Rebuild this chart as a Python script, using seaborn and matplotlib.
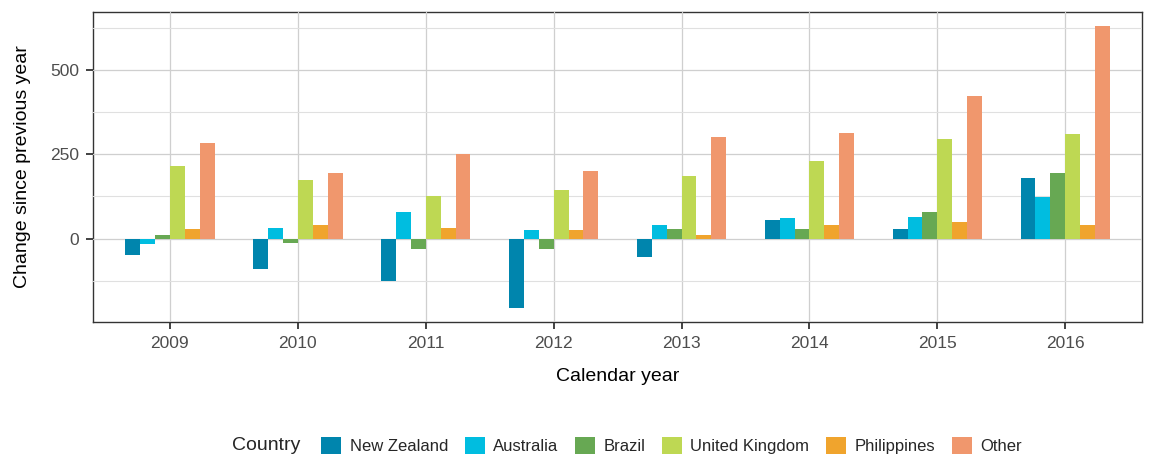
import pandas as pd
import seaborn as sns
from matplotlib import pyplot as plt
from matplotlib.ticker import MultipleLocator

years = ["2009", "2010", "2011", "2012", "2013", "2014", "2015", "2016"]
countries = ["New Zealand", "Australia", "Brazil", "United Kingdom", "Philippines", "Other"]

new_zealand = [-50, -90, -126, -205, -54, 55, 27, 178]
australia = [-17, 32, 79, 26, 40, 62, 64, 124]
brazil = [12, -14, -30, -30, 27, 27, 79, 195]
united_kingdom = [216, 174, 127, 145, 186, 231, 294, 309]
philippines = [27, 40, 30, 24, 12, 40, 48, 41]
other = [283, 195, 250, 201, 300, 313, 421, 629]

colors = ["#0085AD", "#00BDE0", "#67A853", "#BED853", "#F0A42D", "#F0976D"]

series = [new_zealand, australia, brazil, united_kingdom, philippines, other]
df = pd.DataFrame({
    "year": years * len(countries),
    "change": [v for s in series for v in s],
    "country": [c for c in countries for _ in years],
})

sns.set_style("ticks")
plt.rcParams["font.family"] = ["Liberation Sans", "DejaVu Sans"]

fig = plt.figure(figsize=(11.53, 4.57), dpi=100)
ax = fig.add_axes([0.0807, 0.2954, 0.9098, 0.6783])

sns.barplot(data=df, x="year", y="change", hue="country", hue_order=countries,
            palette=colors, saturation=1, width=0.7, errorbar=None, linewidth=0,
            ax=ax, zorder=3)

ax.set_xlim(-0.6, 7.6)
ax.set_ylim(-247, 671)
ax.yaxis.set_major_locator(MultipleLocator(250))
ax.yaxis.set_minor_locator(MultipleLocator(125))
ax.grid(True, which="major", color="#CFCFCF", linewidth=0.9)
ax.grid(True, which="minor", axis="y", color="#E0E0E0", linewidth=0.8)
ax.set_axisbelow(False)
ax.xaxis.set_zorder(2.5)
ax.yaxis.set_zorder(2.5)
for s in ax.spines.values():
    s.set_visible(True)
    s.set_color("#333333")
    s.set_linewidth(1.0)
ax.tick_params(axis="both", which="major", direction="out", length=5, width=1.3,
               color="#333333", labelcolor="#4D4D4D", labelsize=12.5, pad=5,
               bottom=True, left=True)
ax.tick_params(which="minor", length=0)
ax.set_xlabel("Calendar year", fontsize=14, color="black", labelpad=12)
ax.set_ylabel("Change since previous year", fontsize=14, color="black", labelpad=14)

handles, labels = ax.get_legend_handles_labels()
ax.get_legend().remove()
fig.text(0.201, 0.025, "Country", fontsize=14, va="center", ha="left")
fig.legend(handles, labels, loc="center left", bbox_to_anchor=(0.273, 0.025), ncol=6,
           frameon=False, fontsize=12, handlelength=1.2, handleheight=1.2,
           handletextpad=0.5, columnspacing=1.0, borderaxespad=0)

fig.savefig("out.png", dpi=100)
